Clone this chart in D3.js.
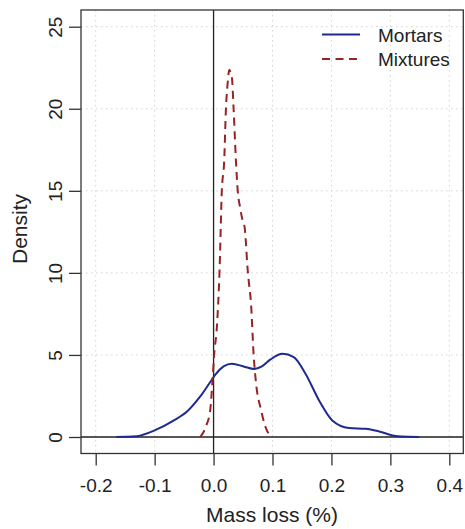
<!DOCTYPE html>
<html><head><meta charset="utf-8">
<script src="https://cdn.jsdelivr.net/npm/d3@7"></script>
<style>body{margin:0;background:#fff}svg{display:block;font-family:"Liberation Sans",Arial,sans-serif}</style>
</head><body>
<svg id="c" width="465" height="529"></svg>
<script>
const xTicks = [-0.2, -0.1, 0.0, 0.1, 0.2, 0.3, 0.4];
const yTicks = [0, 5, 10, 15, 20, 25];
const seriesNames = ["Mortars", "Mixtures"];
const mortarsX = [-0.165, -0.15, -0.13, -0.1, -0.068, -0.045, -0.0226, -0.003, 0.003, 0.017, 0.031, 0.051, 0.069, 0.082, 0.096, 0.117, 0.136, 0.156, 0.179, 0.2015, 0.23, 0.258, 0.281, 0.309, 0.33, 0.349];
const mortarsY = [0, 0.01, 0.05, 0.4, 1.0, 1.55, 2.47, 3.49, 3.8, 4.3, 4.46, 4.3, 4.14, 4.3, 4.71, 5.07, 4.87, 3.86, 2.23, 1.01, 0.55, 0.5, 0.34, 0.06, 0.01, 0];
const mixturesX = [-0.0226, -0.013, -0.0056, -0.0017, 0.001, 0.0057, 0.0102, 0.014, 0.018, 0.021, 0.024, 0.0267, 0.029, 0.031, 0.034, 0.038, 0.041, 0.045, 0.049, 0.0526, 0.055, 0.057, 0.0594, 0.0635, 0.068, 0.072, 0.0805, 0.0878, 0.098];
const mixturesY = [0, 0.64, 1.66, 3.5, 5, 6.74, 10.2, 15, 16.8, 20, 21.6, 22.37, 22.2, 21.96, 20, 16.8, 15, 14.0, 13.23, 12.8, 11.8, 10.6, 9.6, 8.15, 5, 3.3, 1.66, 0.64, 0];

const svg = d3.select("#c");
const L = 81, R = 463.3, T = 10, B = 453.5;
const x = d3.scaleLinear().domain([-0.2, 0.4]).range([95.7, 449.3]);
const y = d3.scaleLinear().domain([0, 25]).range([437, 26.7]);

// grid
const g = svg.append("g");
g.selectAll(".gx").data(xTicks).join("line")
  .attr("x1", d => x(d)).attr("x2", d => x(d)).attr("y1", T).attr("y2", B)
  .attr("stroke", "#d3d3d3").attr("stroke-width", 1).attr("stroke-dasharray", "1.5,3.5");
g.selectAll(".gy").data(yTicks).join("line")
  .attr("x1", L).attr("x2", R).attr("y1", d => y(d)).attr("y2", d => y(d))
  .attr("stroke", "#d3d3d3").attr("stroke-width", 1).attr("stroke-dasharray", "1.5,3.5");

// reference lines
svg.append("line").attr("x1", x(0)).attr("x2", x(0)).attr("y1", T).attr("y2", B)
  .attr("stroke", "#222").attr("stroke-width", 1.3);
svg.append("line").attr("x1", L).attr("x2", R).attr("y1", y(0)).attr("y2", y(0))
  .attr("stroke", "#222").attr("stroke-width", 1.3);

// curves
const line = d3.line().x(d => x(d[0])).y(d => y(d[1])).curve(d3.curveMonotoneX);
svg.append("path").datum(d3.zip(mortarsX, mortarsY)).attr("d", line)
  .attr("fill", "none").attr("stroke", "#1f2a8f").attr("stroke-width", 2);
svg.append("path").datum(d3.zip(mixturesX, mixturesY)).attr("d", line)
  .attr("fill", "none").attr("stroke", "#962424").attr("stroke-width", 2)
  .attr("stroke-dasharray", "8,5.5");

// box
svg.append("rect").attr("x", L).attr("y", T).attr("width", R - L).attr("height", B - T)
  .attr("fill", "none").attr("stroke", "#333").attr("stroke-width", 1.3);

// axes
const xAxis = svg.append("g").attr("transform", `translate(0,${B})`)
  .call(d3.axisBottom(x).tickValues(xTicks).tickSize(12).tickFormat(d3.format(".1f")));
xAxis.select(".domain").remove();
xAxis.selectAll("line").attr("stroke", "#333").attr("stroke-width", 1.3);
xAxis.selectAll("text").attr("font-size", 19).attr("fill", "#222").attr("dy", null).attr("y", 38.5)
  .text(d => d === 0 ? "0.0" : d3.format(".1f")(d).replace("−", "-"));

const yAxis = svg.append("g").attr("transform", `translate(${L},0)`)
  .call(d3.axisLeft(y).tickValues(yTicks).tickSize(12));
yAxis.select(".domain").remove();
yAxis.selectAll("line").attr("stroke", "#333").attr("stroke-width", 1.3);
yAxis.selectAll("text").attr("font-size", 19).attr("fill", "#222")
  .attr("x", null).attr("dy", null).attr("text-anchor", "middle")
  .attr("transform", "translate(-19,0) rotate(-90)");

// axis titles
svg.append("text").attr("x", 272).attr("y", 521.5).attr("text-anchor", "middle")
  .attr("font-size", 21).attr("fill", "#222").text("Mass loss (%)");
svg.append("text").attr("transform", "translate(26.5,229) rotate(-90)").attr("text-anchor", "middle")
  .attr("font-size", 21).attr("fill", "#222").text("Density");

// legend
const leg = svg.append("g");
const legStyles = [{c: "#1f2a8f", dash: null}, {c: "#962424", dash: "8,5.5"}];
seriesNames.forEach((n, i) => {
  const yy = 34.5 + i * 24.5;
  leg.append("line").attr("x1", 322).attr("x2", 360).attr("y1", yy).attr("y2", yy)
    .attr("stroke", legStyles[i].c).attr("stroke-width", 2).attr("stroke-dasharray", legStyles[i].dash);
  leg.append("text").attr("x", 378).attr("y", yy + 7).attr("font-size", 19).attr("fill", "#222").text(n);
});
</script>
</body></html>
